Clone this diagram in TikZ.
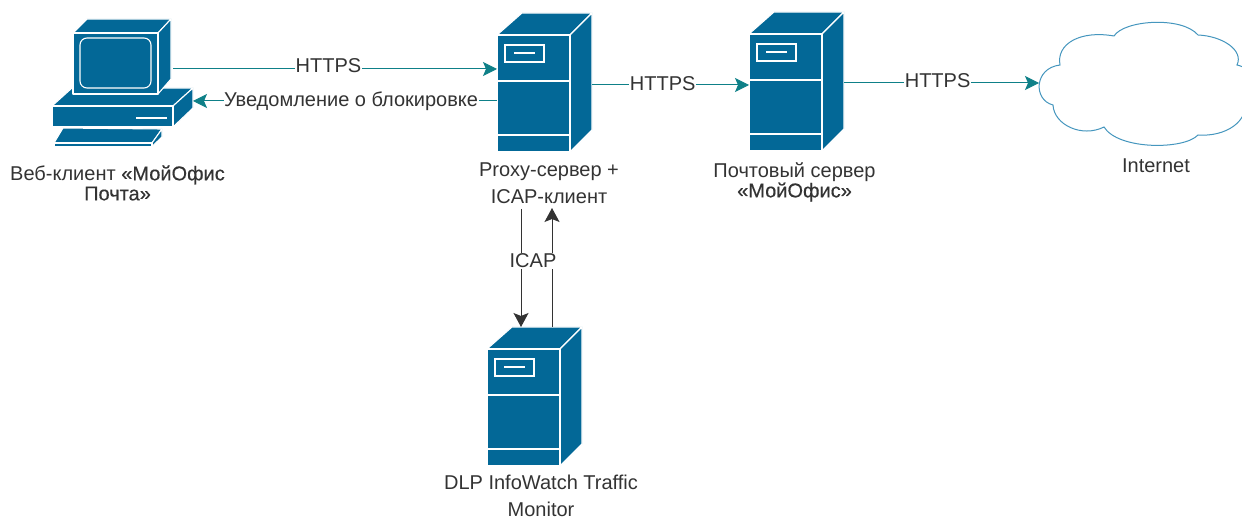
\documentclass[tikz,border=0pt]{standalone}
\usepackage{fontspec}
\setmainfont{Liberation Sans}
\newfontface\heavy[FakeBold=0.35]{Liberation Sans}
\usetikzlibrary{arrows.meta,calc}
\definecolor{srv}{HTML}{036897}
\definecolor{cloudc}{HTML}{4596BE}
\definecolor{teal}{HTML}{0E8088}
\definecolor{ink}{HTML}{333333}
\tikzset{
  x=1pt,y=-1pt,
  solid3d/.style={fill=srv,draw=white,line width=1.1pt,line join=round},
  hole/.style={draw=white,line width=1.1pt},
  anchorbox/.style={rectangle,inner sep=0pt,outer sep=0pt,anchor=north west},
  caption/.style={text=ink,align=center,inner sep=0pt,font=\fontsize{20}{20}\selectfont},
  tag/.style={text=ink,fill=white,inner sep=0.5pt,font=\fontsize{20}{20}\selectfont},
  tealarrow/.style={draw=teal,line width=1pt,-{Stealth[length=14pt,width=14pt,inset=3pt,fill=teal]}},
  darkarrow/.style={draw=ink,line width=1pt,-{Stealth[length=14pt,width=15pt,inset=3pt,fill=ink]}},
  server/.pic={
    \filldraw[solid3d] (0,22) -- (25,0) -- (95,0) -- (73,22) -- cycle;
    \filldraw[solid3d] (73,22) -- (95,0) -- (95,117) -- (73,139) -- cycle;
    \filldraw[solid3d] (0,22) rectangle (73,139);
    \draw[hole] (0,68) -- (73,68) (0,122) -- (73,122);
    \draw[hole] (8,32) rectangle (47,49);
    \draw[hole] (17,40) -- (38,40);
  }
}
\begin{document}
\begin{tikzpicture}
\useasboundingbox (0,0) rectangle (1242,518);

% anchor boxes for the devices
\node[anchorbox,minimum width=100pt,minimum height=75pt] (mon) at (73,19) {};
\node[anchorbox,minimum width=141pt,minimum height=39pt] (base) at (52,88) {};
\node[anchorbox,minimum width=95pt,minimum height=139pt] (proxy) at (497,13) {};
\node[anchorbox,minimum width=95pt,minimum height=139pt] (mail) at (749,12) {};
\node[anchorbox,minimum width=95pt,minimum height=139pt] (dlp) at (487,327) {};
\node[anchorbox,minimum width=203pt,minimum height=123pt] (cloud) at (1039,22) {};

% computer
\filldraw[solid3d] (52,106) -- (72,88) -- (193,88) -- (173,106) -- cycle;
\filldraw[solid3d] (173,106) -- (193,88) -- (193,108) -- (173,127) -- cycle;
\filldraw[solid3d] (52,106) rectangle (173,127);
\draw[hole,line width=1.6pt] (136,118) -- (167,118);
\filldraw[solid3d] (73,33) -- (87,19) -- (171,19) -- (158,33) -- cycle;
\filldraw[solid3d] (158,33) -- (171,19) -- (171,79) -- (158,94) -- cycle;
\filldraw[solid3d] (73,33) rectangle (158,94);
\draw[hole,rounded corners=7pt] (80,38) rectangle (151,88);
\filldraw[solid3d] (54,143) -- (63,128) -- (162,129) -- (152,143) -- cycle;
\filldraw[solid3d] (152,143) -- (162,129) -- (162,137) -- (152,146.5) -- cycle;
\filldraw[solid3d] (54,143) rectangle (152,146.5);

% servers
\pic at (497,13) {server};
\pic at (749,12) {server};
\pic at (487,327) {server};

% cloud
\begin{scope}
\clip (0,0) rectangle (1242,518);
\draw[draw=cloudc,line width=1pt,fill=white]
  (1060,65)
  .. controls (1056,44) and (1080,30) .. (1114,36)
  .. controls (1124,20) and (1182,16) .. (1198,35)
  .. controls (1222,36) and (1244,50) .. (1237,65)
  .. controls (1252,68) and (1258,85) .. (1245,98)
  .. controls (1250,122) and (1225,137) .. (1198,135)
  .. controls (1184,150) and (1118,150) .. (1104,127)
  .. controls (1082,138) and (1054,125) .. (1053,105)
  .. controls (1033,100) and (1034,68) .. (1060,65) -- cycle;
\end{scope}

% connectors
\draw[tealarrow] (mon.east |- 0,69) -- node[tag,pos=.48,yshift=3pt]{HTTPS} (proxy.west |- 0,69);
\draw[tealarrow] (proxy.west |- 0,101) -- node[tag,pos=.48]{Уведомление о блокировке} (base.east |- 0,101);
\draw[tealarrow] (proxy.east |- 0,85) -- node[tag,pos=.45,yshift=1pt]{HTTPS} (mail.west |- 0,85);
\draw[tealarrow] (mail.east |- 0,83) -- node[tag,pos=.48,yshift=2pt]{HTTPS} (cloud.west |- 0,83);
\draw[darkarrow] (521,209) -- (dlp.north -| 521,0);
\draw[darkarrow] (dlp.north -| 552,0) -- (552,208);
\node[tag,inner xsep=1pt] (icap) at (533,261) {ICAP};

% captions
\node[caption] (capweb) at (117.5,183) {Веб-клиент {\heavy «МойОфис}\\{\heavy Почта»}};
\node[caption,font=\fontsize{20}{27}\selectfont] (capproxy) at (549,183.5) {Proxy-сервер +\\ICAP-клиент};
\node[caption] (capmail) at (794.5,182) {Почтовый сервер\\{\heavy «МойОфис»}};
\node[caption] (capnet) at (1156,166) {Internet};
\node[caption,font=\fontsize{20}{27}\selectfont] (capdlp) at (541,495.5) {DLP InfoWatch Traffic\\Monitor};
\end{tikzpicture}
\end{document}
